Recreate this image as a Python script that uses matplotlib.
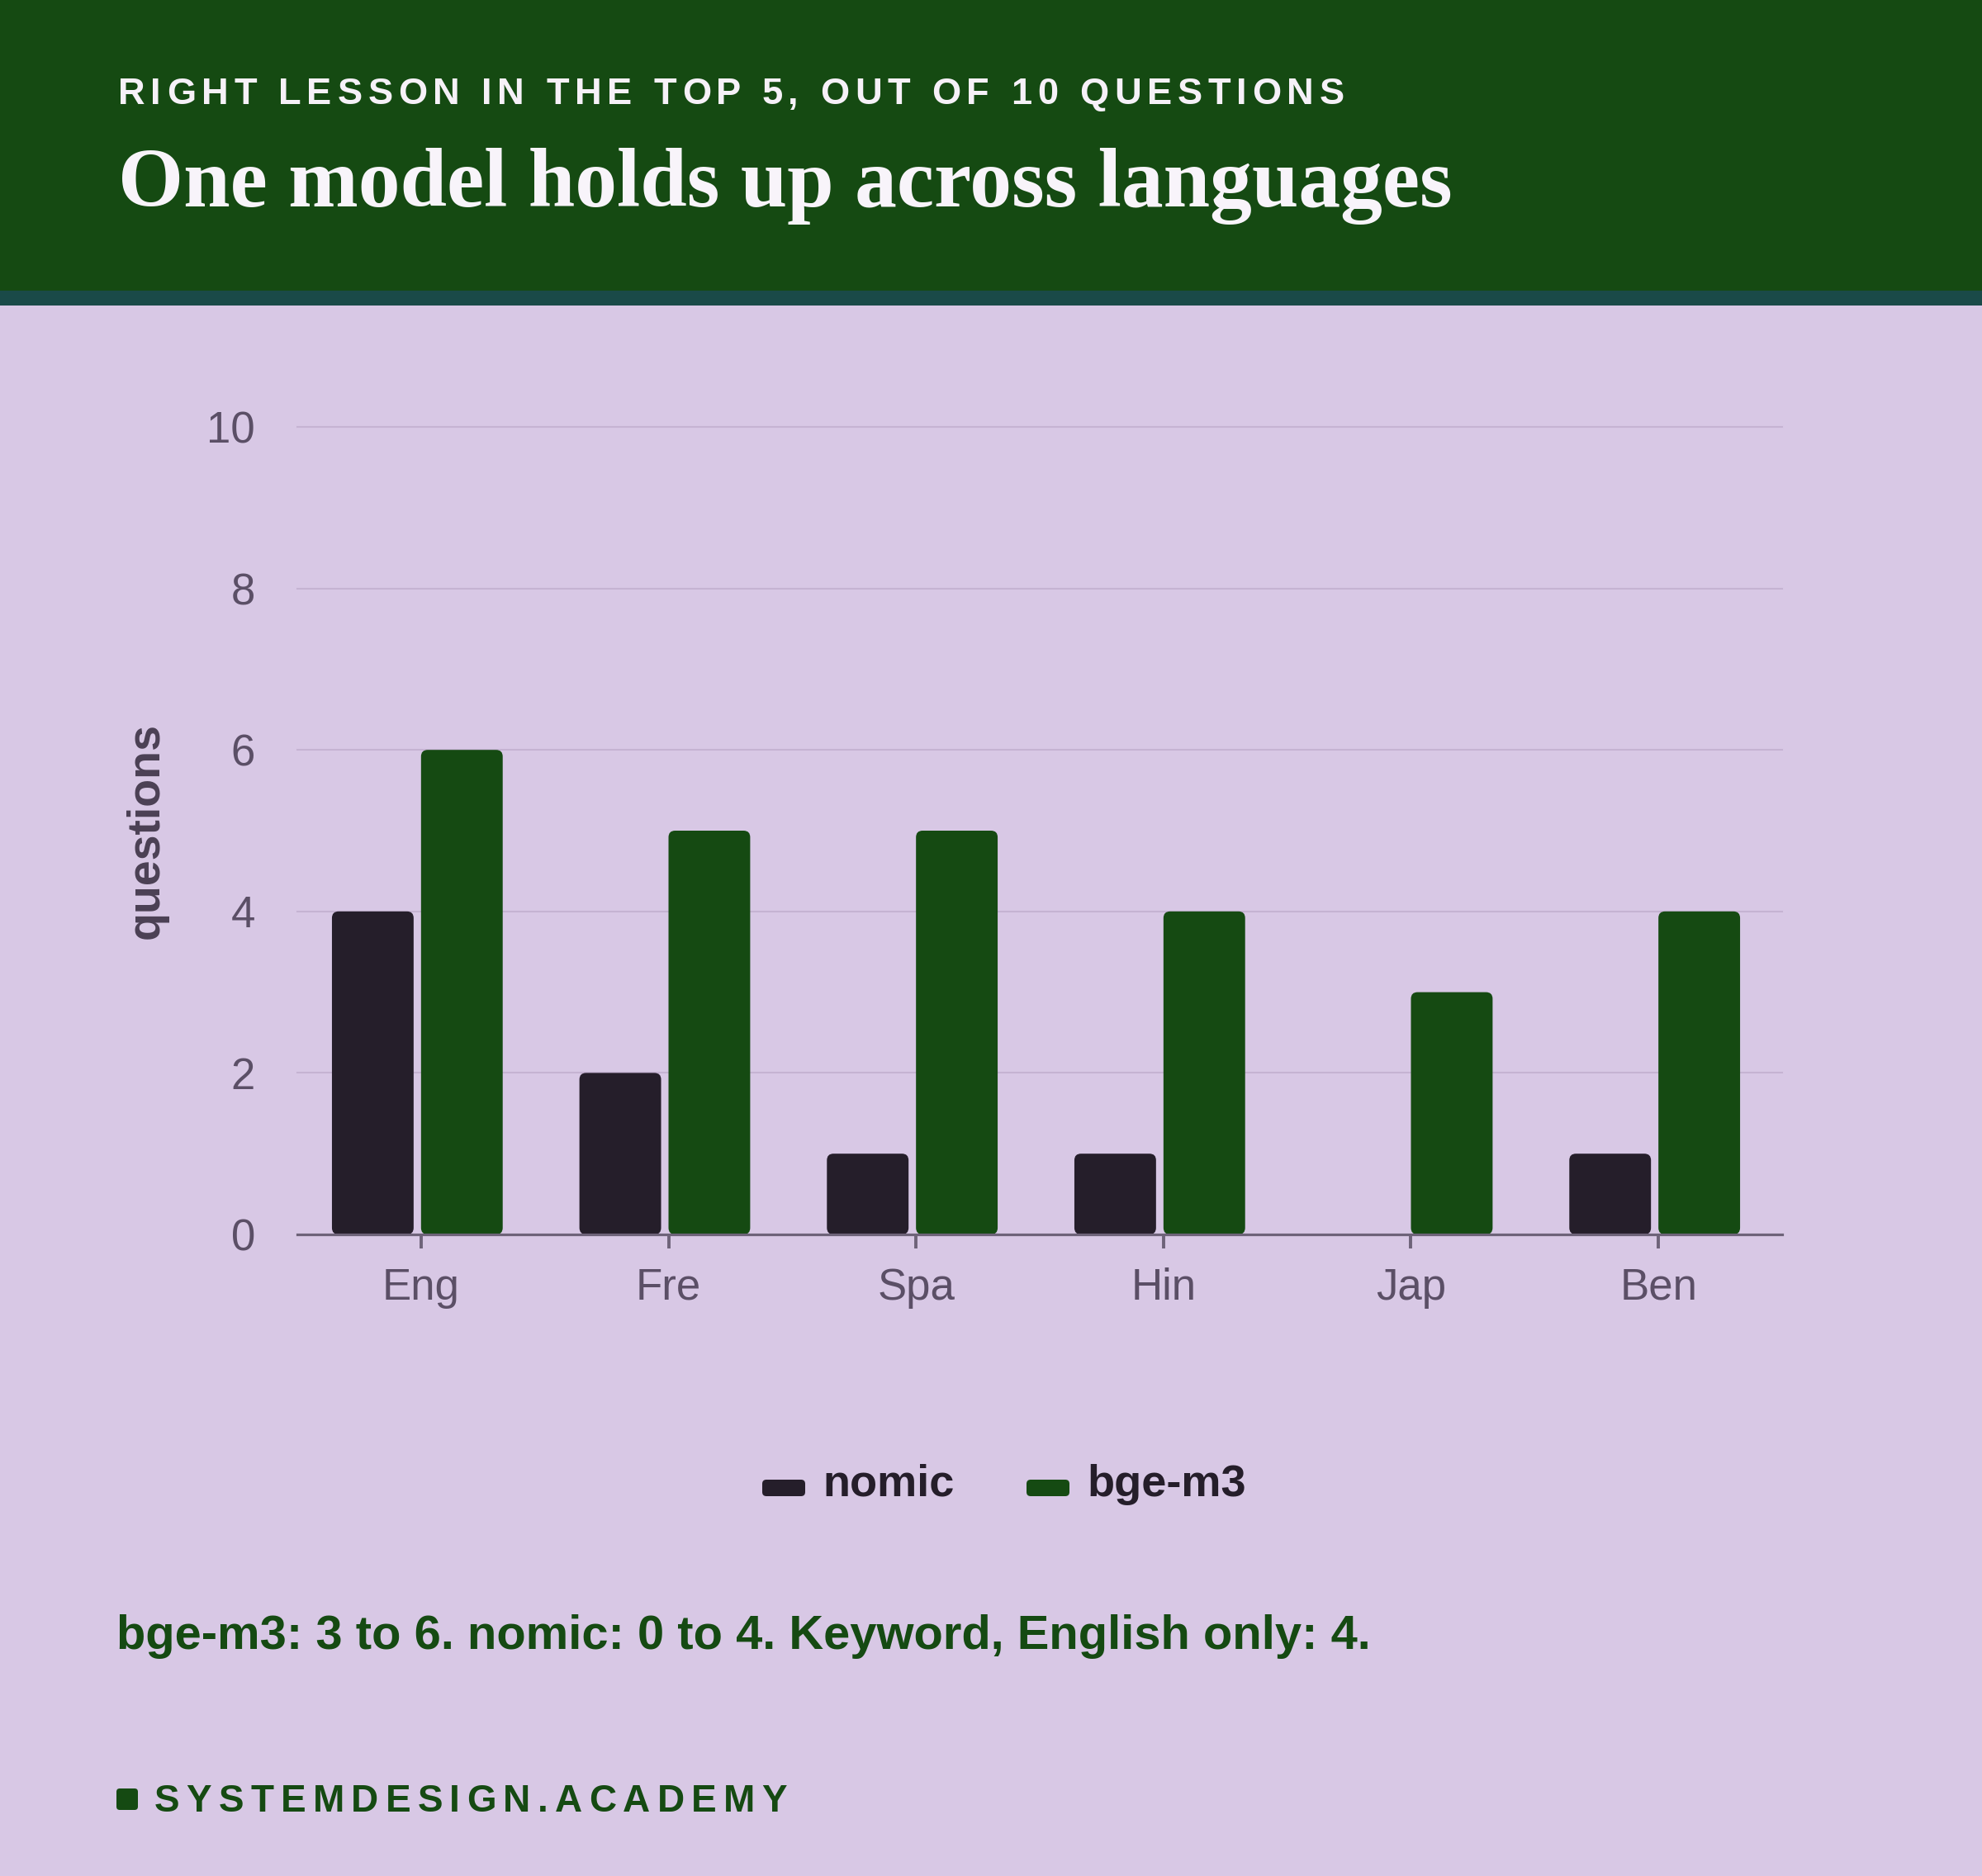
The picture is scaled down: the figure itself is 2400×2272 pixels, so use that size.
import matplotlib
matplotlib.use('Agg')
import matplotlib.pyplot as plt
from matplotlib.patches import Rectangle, FancyBboxPatch
import numpy as np

plt.rcParams['font.family'] = ['Liberation Sans', 'DejaVu Sans']

# data
languages = ['Eng', 'Fre', 'Spa', 'Hin', 'Jap', 'Ben']
series_names = ['nomic', 'bge-m3']
nomic = [4, 2, 1, 1, 0, 1]
bge_m3 = [6, 5, 5, 4, 3, 4]
y_ticks = [0, 2, 4, 6, 8, 10]

kicker = 'RIGHT LESSON IN THE TOP 5, OUT OF 10 QUESTIONS'
title = 'One model holds up across languages'
note = 'bge-m3: 3 to 6. nomic: 0 to 4. Keyword, English only: 4.'
footer = 'SYSTEMDESIGN.ACADEMY'

# colours
bg = '#d8c8e5'
green = '#154a12'
teal = '#1a4a48'
dark = '#251e2a'
tick_col = '#5b4f66'
axis_col = '#6e6379'
grid_col = '#c5b3d2'

W, H = 2400, 2272
DPI = 200
fig = plt.figure(figsize=(W / DPI, H / DPI), dpi=DPI, facecolor=bg)

def fx(x):
    return x / W

def fy(y):
    return 1 - y / H

# header band
fig.patches.append(Rectangle((0, fy(352)), 1, 352 / H, transform=fig.transFigure,
                             facecolor=green, edgecolor='none', zorder=0))
fig.patches.append(Rectangle((0, fy(370)), 1, 18 / H, transform=fig.transFigure,
                             facecolor=teal, edgecolor='none', zorder=0))

renderer = fig.canvas.get_renderer()

def text_w(s, **kw):
    t = fig.text(0, 0, s, **kw)
    w = t.get_window_extent(renderer).width
    t.remove()
    return w

def tracked(x, y, s, target_w, **kw):
    # letter-spaced text, spread to a given width
    bar = text_w('|', **kw)
    offs = [text_w(s[:i] + '|', **kw) - bar if i else 0 for i in range(len(s))]
    natural = text_w(s, **kw)
    track = (target_w - natural) / (len(s) - 1)
    for i, c in enumerate(s):
        if c == ' ':
            continue
        fig.text(fx(x + offs[i] + i * track), fy(y), c, ha='left', va='baseline', **kw)

tracked(143, 126, kicker, 1485, fontsize=16.3, fontweight='bold', color='#f6f1f8')
fig.text(fx(143), fy(250), title, family=['Liberation Serif', 'DejaVu Serif'],
         fontsize=36.6, fontweight='bold', color='#f8f4fa', ha='left', va='baseline')

# axes
ax_l, ax_r, ax_t, ax_b = 360, 2158, 517, 1495
ax = fig.add_axes([fx(ax_l), fy(ax_b), (ax_r - ax_l) / W, (ax_b - ax_t) / H])
ax.set_facecolor('none')
x = np.arange(len(languages))
ax.set_xlim(-0.5, len(languages) - 0.5)
ax.set_ylim(0, 10)

bw = 0.33
aspect = (10 / (ax_b - ax_t)) / (len(languages) / (ax_r - ax_l))
rs = 8 / ((ax_r - ax_l) / len(languages))
for vals, off, col in [(nomic, -0.195, dark), (bge_m3, 0.165, green)]:
    bars = ax.bar(x + off, vals, width=bw, color=col)
    for r in bars:
        if r.get_height() > 0:
            ax.add_patch(FancyBboxPatch((r.get_x(), r.get_y()), r.get_width(), r.get_height(),
                                        boxstyle=f'round,pad=0,rounding_size={rs}',
                                        mutation_aspect=aspect, facecolor=col,
                                        edgecolor='none', zorder=3))
        r.remove()

ax.set_yticks(y_ticks)
ax.set_xticks(x)
ax.set_xticklabels(languages)
ax.yaxis.grid(True, color=grid_col, linewidth=0.75)
ax.set_axisbelow(True)
for gl in ax.get_ygridlines():
    gl.set_clip_on(False)
ax.get_ygridlines()[0].set_visible(False)
for s in ['top', 'right', 'left']:
    ax.spines[s].set_visible(False)
ax.spines['bottom'].set_color(axis_col)
ax.spines['bottom'].set_linewidth(1.15)
ax.spines['bottom'].set_zorder(4)
ax.tick_params(axis='y', length=0, pad=18.4, labelsize=19, labelcolor=tick_col)
ax.tick_params(axis='x', length=6.1, width=1.4, color=axis_col, pad=8.2,
               labelsize=19, labelcolor=tick_col)
ax.set_ylabel('questions', fontsize=20, fontweight='bold', color='#4b4054')
ax.yaxis.label.set_va('center')
ax.yaxis.set_label_coords((178 - ax_l) / (ax_r - ax_l), 0.5)

# legend
leg_items = [(923, 996, dark), (1243, 1316, green)]
for name, (hx, tx, col) in zip(series_names, leg_items):
    fig.patches.append(FancyBboxPatch((fx(hx), fy(1812)), 52 / W, 20 / H,
                                      boxstyle=f'round,pad=0,rounding_size={5 / W}',
                                      mutation_aspect=W / H, transform=fig.transFigure,
                                      facecolor=col, edgecolor='none'))
    fig.text(fx(tx), fy(1812), name, fontsize=19.5, fontweight='bold', color=dark,
             ha='left', va='baseline')

# note and footer
fig.text(fx(141), fy(1997), note, fontsize=20.85, fontweight='bold', color=green,
         ha='left', va='baseline')
fig.patches.append(FancyBboxPatch((fx(141), fy(2192)), 26 / W, 26 / H,
                                  boxstyle=f'round,pad=0,rounding_size={4 / W}',
                                  mutation_aspect=W / H, transform=fig.transFigure,
                                  facecolor=green, edgecolor='none'))
tracked(187, 2194, footer, 766, fontsize=16.5, fontweight='bold', color=green)

fig.savefig('out.png', dpi=DPI, facecolor=bg)
